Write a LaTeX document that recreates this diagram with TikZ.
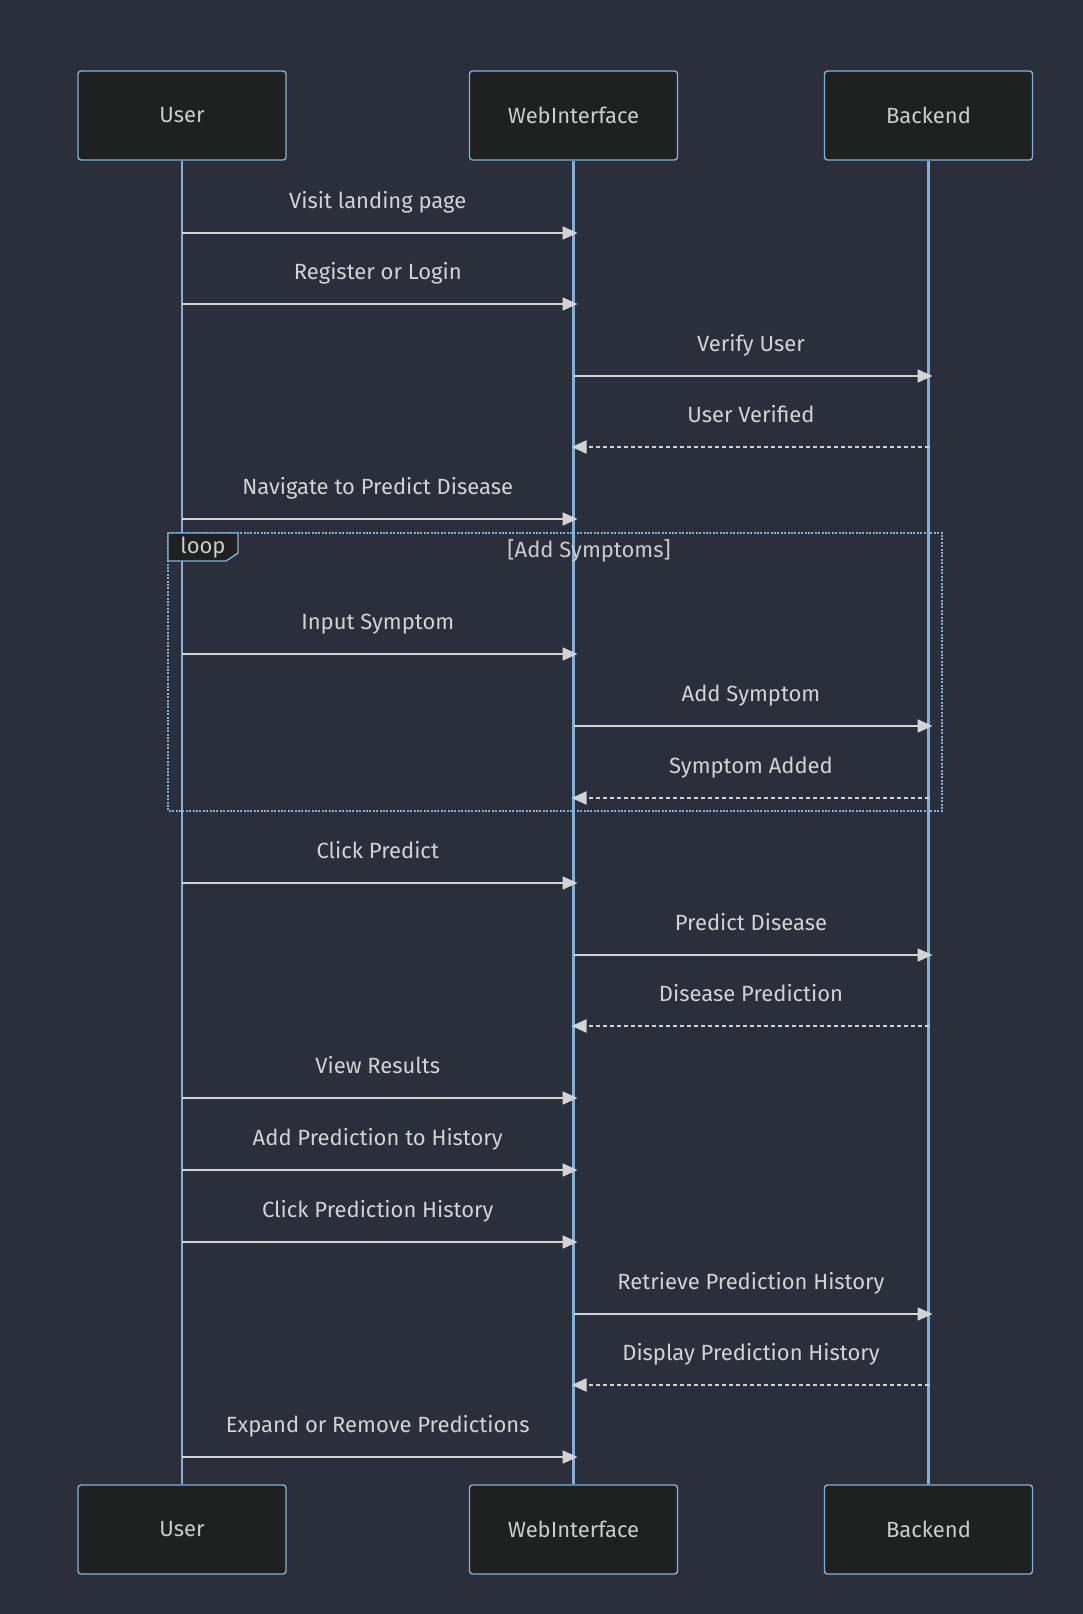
\documentclass[tikz,border=0pt]{standalone}
\usepackage{fontspec}
\setmainfont{Fira Sans}
\usepackage{xcolor}
\usetikzlibrary{arrows.meta,calc}
\definecolor{bgdark}{HTML}{2A2F3B}
\definecolor{actorfill}{HTML}{1F2020}
\definecolor{actorblue}{HTML}{81B1DB}
\definecolor{msggray}{HTML}{D3D3D3}
\definecolor{textgray}{HTML}{CCCCCC}
\tikzset{
  actor/.style={rectangle,rounded corners=3pt,draw=actorblue,fill=actorfill,line width=1.4pt,
    minimum width=208pt,minimum height=89pt,text=textgray,font=\fontsize{22}{26}\selectfont},
  lifeline/.style={draw=actorblue,line width=2.2pt},
  msg/.style={-{Triangle[length=15pt,width=13pt]},draw=msggray,line width=2pt,shorten >=-4pt},
  reply/.style={msg,dash pattern=on 4pt off 3pt,shorten >=-2pt},
  msglabel/.style={anchor=base,yshift=25pt,text=msggray,font=\fontsize{22}{26}\selectfont},
  loopline/.style={draw=actorblue,line width=2.2pt,dash pattern=on 2pt off 1.4pt},
  looptab/.style={draw=actorblue,fill=actorfill,line width=1.4pt},
  looplabel/.style={text=textgray,font=\fontsize{22}{26}\selectfont}
}
\begin{document}
\begin{tikzpicture}[x=1pt,y=-1pt]
\fill[bgdark] (0,0) rectangle (1083,1614);
% actors, top and bottom
\node[actor] (user) at (182,115.5) {User};
\node[actor] (web) at (573.5,115.5) {WebInterface};
\node[actor] (backend) at (928.5,115.5) {Backend};
\node[actor] (userb) at (182,1529.5) {User};
\node[actor] (webb) at (573.5,1529.5) {WebInterface};
\node[actor] (backendb) at (928.5,1529.5) {Backend};
% lifelines
\draw[lifeline] (user.south) -- (userb.north);
\draw[lifeline] (web.south) -- (webb.north);
\draw[lifeline] (backend.south) -- (backendb.north);
% loop frame
\coordinate (loopnw) at (168,533);
\coordinate (loopse) at (942,811);
\draw[loopline] (loopnw) rectangle (loopse);
\draw[looptab] (loopnw) -- ++(70,0) -- ++(0,20) -- ++(-12,8) -- ++(-58,0) -- cycle;
\node[looplabel] (looptxt) at (203,548) {loop};
\node[looplabel] (loopcond) at (589,551) {[Add Symptoms]};
% messages
\foreach \y/\from/\to/\kind/\txt in {
  233/user/web/msg/Visit landing page,
  304/user/web/msg/Register or Login,
  376/web/backend/msg/Verify User,
  447/backend/web/reply/User Verified,
  519/user/web/msg/Navigate to Predict Disease,
  654/user/web/msg/Input Symptom,
  726/web/backend/msg/Add Symptom,
  798/backend/web/reply/Symptom Added,
  883/user/web/msg/Click Predict,
  955/web/backend/msg/Predict Disease,
  1026/backend/web/reply/Disease Prediction,
  1098/user/web/msg/View Results,
  1170/user/web/msg/Add Prediction to History,
  1242/user/web/msg/Click Prediction History,
  1314/web/backend/msg/Retrieve Prediction History,
  1385/backend/web/reply/Display Prediction History,
  1457/user/web/msg/Expand or Remove Predictions}
  \draw[\kind] (\from.center |- 0,\y) -- (\to.center |- 0,\y)
    node[msglabel,midway] {\txt};
\end{tikzpicture}
\end{document}
